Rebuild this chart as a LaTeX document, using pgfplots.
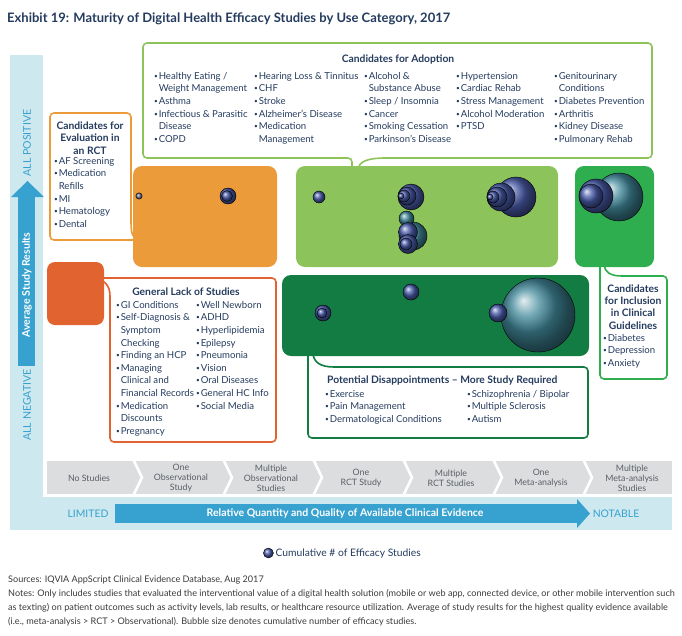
\documentclass[border=0pt]{standalone}
\usepackage{pgfplots}
\pgfplotsset{compat=1.18}
\usepackage{fontspec}
\setmainfont{Lato}
\definecolor{navy}{HTML}{243B5E}
\definecolor{lband}{HTML}{CDE8EF}
\definecolor{arrblue}{HTML}{37A2CF}
\definecolor{chev}{HTML}{DCDDDF}
\definecolor{chevtxt}{HTML}{5A5F66}
\definecolor{corange}{HTML}{EC9B3A}
\definecolor{clgreen}{HTML}{8CC35A}
\definecolor{cmgreen}{HTML}{2FAE4F}
\definecolor{cdgreen}{HTML}{137C43}
\definecolor{cred}{HTML}{E16330}
\definecolor{bblue}{HTML}{4A5CAA}
\definecolor{bteal}{HTML}{41899A}
\definecolor{bgray}{HTML}{6C7290}
\definecolor{notes}{HTML}{3A3A3A}
\newcommand\bul{{\fontsize{6.5}{6.5}\selectfont\raisebox{0.3ex}{•}}\hspace{0.8pt}}
\newcommand\ind{\phantom{\bul}}
\tikzset{lst/.style={anchor=north west, align=left, inner sep=0pt, text=navy, font=\fontsize{9.6}{12.6}\selectfont},
  hd/.style={align=center, inner sep=0pt, text=navy, font=\fontsize{10.3}{12.4}\selectfont\bfseries},
  chl/.style={align=center, inner sep=0pt, text=chevtxt, font=\fontsize{8.8}{10}\selectfont}}
\begin{document}
\begin{tikzpicture}
\begin{axis}[scale only axis, width=682pt, height=635pt,
  xmin=0, xmax=682, ymin=0, ymax=635, y dir=reverse, hide axis, clip=false,
  legend style={at={(axis cs:263,553)}, anchor=west, draw=none, fill=none,
    font=\fontsize{10.3}{11}\selectfont, text=navy, inner sep=0pt},
  legend cell align=left]
\path (0,0) rectangle (682,635);
% background bands
\fill[lband] (10,55) rectangle (43,530);
\fill[lband] (10,497) rectangle (672,530);
% title
\node[anchor=west, inner sep=0pt, text=navy, font=\fontsize{13}{14}\selectfont\bfseries] at (7,19) {Exhibit 19: Maturity of Digital Health Efficacy Studies by Use Category, 2017};
% vertical arrow
\fill[arrblue] (18,197) rectangle (35,366);
\fill[arrblue] (11,197) -- (44,197) -- (27.5,181) -- cycle;
\node[rotate=90, text=white, inner sep=0pt, font=\fontsize{10.6}{11}\selectfont\bfseries] at (27,285) {Average Study Results};
\node[rotate=90, text=arrblue, inner sep=0pt, font=\fontsize{10.6}{11}\selectfont] at (27,143) {ALL POSITIVE};
\node[rotate=90, text=arrblue, inner sep=0pt, font=\fontsize{10.6}{11}\selectfont] at (27,405) {ALL NEGATIVE};
% bottom arrow
\fill[arrblue] (115,504) rectangle (577,523);
\fill[arrblue] (577,499) -- (577,528) -- (590,513.5) -- cycle;
\node[text=white, inner sep=0pt, font=\fontsize{10.5}{11}\selectfont\bfseries] at (345,513.5) {Relative Quantity and Quality of Available Clinical Evidence};
\node[text=arrblue, inner sep=0pt, font=\fontsize{10.4}{11}\selectfont] at (88,513.5) {LIMITED};
\node[text=arrblue, inner sep=0pt, font=\fontsize{10.4}{11}\selectfont] at (616,513.5) {NOTABLE};
% chevron strip
\fill[chev] (47,461) rectangle (672,494);
\draw[white, line width=2.6pt] (133,459) -- (142,477.5) -- (133,496);
\draw[white, line width=2.6pt] (223,459) -- (232,477.5) -- (223,496);
\draw[white, line width=2.6pt] (313,459) -- (322,477.5) -- (313,496);
\draw[white, line width=2.6pt] (403,459) -- (412,477.5) -- (403,496);
\draw[white, line width=2.6pt] (493,459) -- (502,477.5) -- (493,496);
\draw[white, line width=2.6pt] (583,459) -- (592,477.5) -- (583,496);
\node[chl] at (89,478) {No Studies};
\node[chl] at (181,478) {One\\Observational\\Study};
\node[chl] at (271,478) {Multiple\\Observational\\Studies};
\node[chl] at (361,478) {One\\RCT Study};
\node[chl] at (451,478) {Multiple\\RCT Studies};
\node[chl] at (541,478) {One\\Meta-analysis};
\node[chl] at (632,478) {Multiple\\Meta-analysis\\Studies};
% coloured fields
\fill[corange, rounded corners=9pt] (133,166) rectangle (277,267);
\fill[clgreen, rounded corners=9pt] (296,166) rectangle (558,267);
\fill[cmgreen, rounded corners=9pt] (575,166) rectangle (654,267);
\fill[cred, rounded corners=8pt] (47,262) rectangle (104,325);
\fill[cdgreen, rounded corners=9pt] (282,275) rectangle (589,356);
% callout: candidates for adoption
\draw[clgreen, line width=1.6pt, rounded corners=4pt] (352,168) -- (352,158) -- (143,158) -- (143,43) -- (652,43) -- (652,158) -- (386,158);
\draw[clgreen, line width=1.6pt] (386,158) .. controls (366,158) and (360,162) .. (358,168);
\node[hd] at (398,60) {Candidates for Adoption};
\node[lst] at (154,72) {\bul Healthy Eating /\\\ind Weight Management\\\bul Asthma\\\bul Infectious \& Parasitic\\\ind Disease\\\bul COPD};
\node[lst] at (254,72) {\bul Hearing Loss \& Tinnitus\\\bul CHF\\\bul Stroke\\\bul Alzheimer's Disease\\\bul Medication\\\ind Management};
\node[lst] at (364,72) {\bul Alcohol \&\\\ind Substance Abuse\\\bul Sleep / Insomnia\\\bul Cancer\\\bul Smoking Cessation\\\bul Parkinson's Disease};
\node[lst] at (456,72) {\bul Hypertension\\\bul Cardiac Rehab\\\bul Stress Management\\\bul Alcohol Moderation\\\bul PTSD};
\node[lst] at (554,72) {\bul Genitourinary\\\ind Conditions\\\bul Diabetes Prevention\\\bul Arthritis\\\bul Kidney Disease\\\bul Pulmonary Rehab};
% callout: evaluation in RCT
\draw[corange, line width=1.6pt, rounded corners=4pt] (136,240) -- (50,240) -- (50,113) -- (131,113) -- (131,222);
\draw[corange, line width=1.6pt] (131,222) .. controls (131,234) and (133,238) .. (138,240);
\node[hd] at (90,138) {Candidates for\\Evaluation in\\an RCT};
\node[lst] at (54,157) {\bul AF Screening\\\bul Medication\\\ind Refills\\\bul MI\\\bul Hematology\\\bul Dental};
% callout: general lack
\draw[cred, line width=1.6pt, rounded corners=4pt] (95,278) -- (276,278) -- (276,442) -- (110,442) -- (110,296);
\draw[cred, line width=1.6pt] (110,296) .. controls (110,285) and (104,280) .. (95,278);
\node[hd] at (186,292) {General Lack of Studies};
\node[lst] at (116,301) {\bul GI Conditions\\\bul Self-Diagnosis \&\\\ind Symptom\\\ind Checking\\\bul Finding an HCP\\\bul Managing\\\ind Clinical and\\\ind Financial Records\\\bul Medication\\\ind Discounts\\\bul Pregnancy};
\node[lst] at (196,301) {\bul Well Newborn\\\bul ADHD\\\bul Hyperlipidemia\\\bul Epilepsy\\\bul Pneumonia\\\bul Vision\\\bul Oral Diseases\\\bul General HC Info\\\bul Social Media};
% callout: potential disappointments
\draw[cdgreen, line width=1.6pt, rounded corners=4pt] (308,354) -- (308,438) -- (588,438) -- (588,367) -- (334,367);
\draw[cdgreen, line width=1.6pt] (334,367) .. controls (320,367) and (314,362) .. (313,354);
\node[hd, anchor=west] at (327,381) {Potential Disappointments -- More Study Required};
\node[lst] at (325,390) {\bul Exercise\\\bul Pain Management\\\bul Dermatological Conditions};
\node[lst] at (467,390) {\bul Schizophrenia / Bipolar\\\bul Multiple Sclerosis\\\bul Autism};
% callout: inclusion in guidelines
\draw[cmgreen, line width=1.6pt, rounded corners=4pt] (600,265) -- (600,379) -- (667,379) -- (667,276) -- (622,276);
\draw[cmgreen, line width=1.6pt] (622,276) .. controls (610,276) and (605,272) .. (604,265);
\node[hd] at (633,307) {Candidates\\for Inclusion\\in Clinical\\Guidelines};
\node[lst] at (603,334) {\bul Diabetes\\\bul Depression\\\bul Anxiety};
% bubbles
\addplot[forget plot, scatter, only marks, mark=ball, point meta=explicit,
  scatter/use mapped color={ball color=bteal},
  visualization depends on={\thisrow{r} \as \rad},
  scatter/@pre marker code/.append style={/tikz/mark size=\rad}]
  table[meta=r] {
x y r
619 197 24
538 315 37
413 236 14
406.5 218.5 7.5
};
\addplot[forget plot, scatter, only marks, mark=ball, point meta=explicit,
  scatter/use mapped color={ball color=bblue},
  visualization depends on={\thisrow{r} \as \rad},
  scatter/@pre marker code/.append style={/tikz/mark size=\rad}]
  table[meta=r] {
x y r
516 197 20
501 197 14
497 197 10
493 197 6
490 197 3
596 196 17
591 196 12
411 197 13
407 196 9
404 196 6
401 196 3
408 232 9.5
408 244 9.5
406 244 6
228 196 8
227 196 5.5
319 197 6
323 313 8
322 313 5
411 292 8
498 313 9
};
\addplot[forget plot, only marks, mark=ball, mark size=3.2, mark options={ball color=bgray}] coordinates {(139,196)};
% legend
\addlegendimage{only marks, mark=ball, mark size=5, mark options={ball color=bblue}}
\addlegendentry{Cumulative \# of Efficacy Studies}
% notes
\node[anchor=west, inner sep=0pt, text=notes, font=\fontsize{9.1}{10}\selectfont] at (8,580) {Sources: IQVIA AppScript Clinical Evidence Database, Aug 2017};
\node[anchor=west, inner sep=0pt, text=notes, font=\fontsize{9.1}{10}\selectfont] at (8,594) {Notes: Only includes studies that evaluated the interventional value of a digital health solution (mobile or web app, connected device, or other mobile intervention such};
\node[anchor=west, inner sep=0pt, text=notes, font=\fontsize{9.1}{10}\selectfont] at (8,608) {as texting) on patient outcomes such as activity levels, lab results, or healthcare resource utilization. Average of study results for the highest quality evidence available};
\node[anchor=west, inner sep=0pt, text=notes, font=\fontsize{9.1}{10}\selectfont] at (8,622) {(i.e., meta-analysis > RCT > Observational). Bubble size denotes cumulative number of efficacy studies.};
\end{axis}
\end{tikzpicture}
\end{document}
